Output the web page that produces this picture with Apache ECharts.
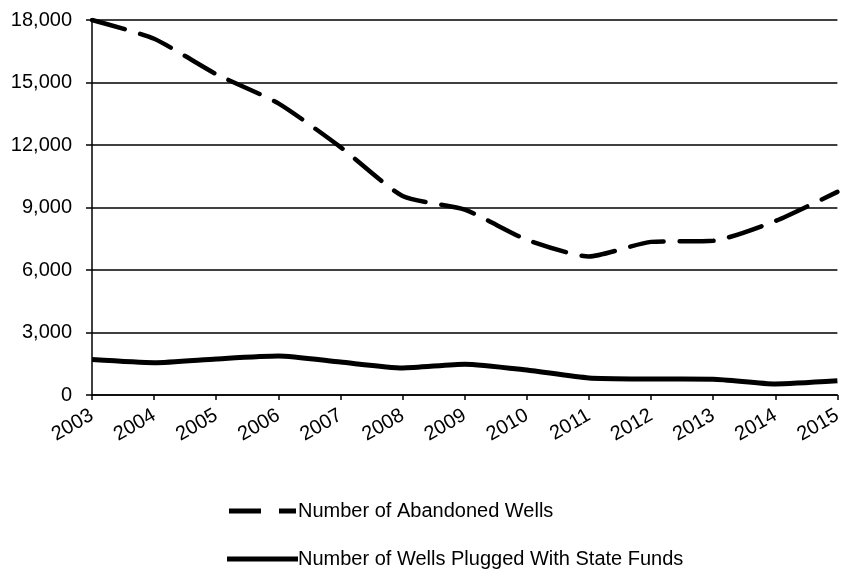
<!DOCTYPE html>
<html>
<head>
<meta charset="utf-8">
<script src="https://cdn.jsdelivr.net/npm/echarts@6/dist/echarts.min.js"></script>
<style>
  html, body { margin: 0; padding: 0; background: #fff; }
  #chart { width: 845px; height: 569px; }
</style>
</head>
<body>
<div id="chart"></div>
<script>
const years = ['2003', '2004', '2005', '2006', '2007', '2008', '2009', '2010', '2011', '2012', '2013', '2014', '2015']
const abandoned = [18000, 17100, 15400, 14000, 11900, 9550, 8900, 7450, 6650, 7350, 7400, 8350, 9750]
const plugged = [1700, 1550, 1730, 1870, 1580, 1300, 1480, 1200, 820, 770, 760, 530, 680]
const yTicks = [0, 3000, 6000, 9000, 12000, 15000, 18000]

const font = 'Liberation Sans, Arial, sans-serif'

// legend icons: dashed / solid bars (series symbol is none)
const dashIcon = 'path://M2,0H34V5H2Z M52,0H69V5H52Z'
const solidIcon = 'path://M0,0H71V5H0Z'

const chart = echarts.init(document.getElementById('chart'))

let option = {
  animation: false,
  grid: {
    left: 92,
    right: 2,
    top: 20,
    bottom: 174
  },
  legend: {
    orient: 'vertical',
    left: 227,
    top: 501,
    padding: 0,
    height: 68,
    itemWidth: 71,
    itemHeight: 5,
    itemGap: 28,
    textStyle: {
      color: '#000',
      fontSize: 20,
      fontFamily: font,
      padding: [0, 0, 0, -5]
    },
    data: [
      { name: 'Number of Abandoned Wells', icon: dashIcon },
      { name: 'Number of Wells Plugged With State Funds', icon: solidIcon }
    ]
  },
  xAxis: {
    type: 'category',
    data: years,
    boundaryGap: false,
    axisLine: { lineStyle: { color: '#000', width: 1.5 } },
    axisTick: { show: true, length: 5, lineStyle: { color: '#000', width: 1.5 } },
    axisLabel: {
      rotate: 30,
      interval: 0,
      margin: 19,
      color: '#000',
      fontSize: 20,
      fontFamily: font
    }
  },
  yAxis: {
    type: 'value',
    min: yTicks[0],
    max: yTicks[yTicks.length - 1],
    interval: 3000,
    axisLine: { show: true, lineStyle: { color: '#000', width: 1.5 } },
    axisTick: { show: true, length: 6, lineStyle: { color: '#000', width: 1.5 } },
    axisLabel: {
      color: '#000',
      fontSize: 20,
      fontFamily: font,
      margin: 20,
      formatter: function (v) { return v.toLocaleString('en-US') }
    },
    splitLine: { show: true, lineStyle: { color: '#000', width: 1.5 } }
  },
  series: [
    {
      name: 'Number of Abandoned Wells',
      type: 'line',
      data: abandoned,
      symbol: 'none',
      smooth: 0.2,
      lineStyle: { color: '#000', width: 4.5, type: [34, 16], cap: 'round' },
      itemStyle: { color: '#000' }
    },
    {
      name: 'Number of Wells Plugged With State Funds',
      type: 'line',
      data: plugged,
      symbol: 'none',
      smooth: 0.2,
      lineStyle: { color: '#000', width: 5 },
      itemStyle: { color: '#000' }
    }
  ]
}

chart.setOption(option)
</script>
</body>
</html>
